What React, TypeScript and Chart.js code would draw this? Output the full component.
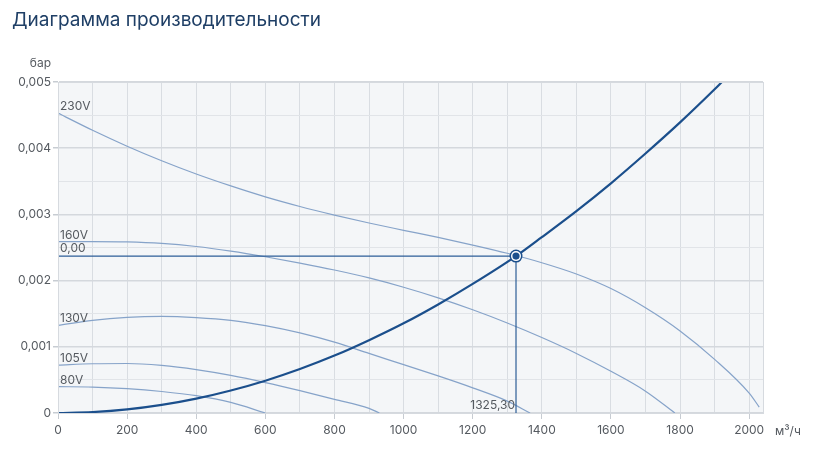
import React, { useEffect, useRef } from "react";
import { Chart, registerables } from "chart.js";

Chart.register(...registerables);

const TITLE = "Диаграмма производительности";
const Y_UNIT = "бар";
const X_UNIT = "м³/ч";

const xGridValues = [0, 100, 200, 300, 400, 500, 600, 700, 800, 900, 1000, 1100, 1200, 1300, 1400, 1500, 1600, 1700, 1800, 1900, 2000];

const fan230X = [0, 100, 200, 300, 400, 500, 600, 700, 800, 900, 1000, 1100, 1200, 1300, 1400, 1500, 1600, 1700, 1800, 1900, 2000, 2029];
const fan230Y = [0.00453, 0.00427, 0.00403, 0.00381, 0.00361, 0.00343, 0.003265, 0.00312, 0.00299, 0.00287, 0.00276, 0.002652, 0.002537, 0.002413, 0.00227, 0.0021, 0.00188, 0.00159, 0.00124, 0.00081, 0.0003, 0.00009];

const fan160X = [0, 100, 200, 300, 400, 500, 600, 700, 800, 900, 1000, 1100, 1200, 1300, 1400, 1500, 1600, 1700, 1785];
const fan160Y = [0.002588, 0.00259, 0.002585, 0.002562, 0.002515, 0.002445, 0.00236, 0.002265, 0.00216, 0.00204, 0.0019, 0.00174, 0.00156, 0.00136, 0.00114, 0.0009, 0.00063, 0.00033, 0];

const fan130X = [0, 100, 200, 300, 400, 500, 600, 700, 800, 900, 1000, 1100, 1200, 1300, 1366];
const fan130Y = [0.001325, 0.0014, 0.001445, 0.00146, 0.001442, 0.0014, 0.00132, 0.00121, 0.00107, 0.0009, 0.00073, 0.00056, 0.00038, 0.00018, 0];

const fan105X = [0, 100, 200, 300, 400, 500, 600, 700, 800, 900, 930];
const fan105Y = [0.000723, 0.000744, 0.000748, 0.000718, 0.000655, 0.000568, 0.00046, 0.000338, 0.000207, 0.00007, 0];

const fan80X = [0, 100, 200, 300, 400, 500, 600];
const fan80Y = [0.000398, 0.000392, 0.000368, 0.000325, 0.000262, 0.00016, 0];

const sysX = [0, 100, 200, 300, 400, 500, 600, 700, 800, 900, 1000, 1100, 1200, 1325.3, 1400, 1500, 1600, 1700, 1800, 1900, 1921];
const sysY = [0, 0.000014, 0.000054, 0.000122, 0.000217, 0.00034, 0.000488, 0.000664, 0.000867, 0.0011, 0.001355, 0.00164, 0.00195, 0.00237, 0.002656, 0.00305, 0.00347, 0.00392, 0.00439, 0.00489, 0.005];

const fanLabels = ["230V", "160V", "130V", "105V", "80V"];
const opX = 1325.3;
const opY = 0.00237;
const opYLabel = "0,00";
const opXLabel = "1325,30";

const toPts = (xs: number[], ys: number[]) => xs.map((x, i) => ({ x, y: ys[i] }));

const FAN_COLOR = "#86a3c9";
const SYS_COLOR = "#1b4f8c";
const OP_COLOR = "#2d5e98";
const TEXT_COLOR = "#555a60";

export default function App() {
  const ref = useRef<HTMLCanvasElement | null>(null);

  useEffect(() => {
    let chart: Chart | null = null;
    let cancelled = false;

    const build = () => {
      if (cancelled || !ref.current) return;
      const fanSets = [
        toPts(fan230X, fan230Y),
        toPts(fan160X, fan160Y),
        toPts(fan130X, fan130Y),
        toPts(fan105X, fan105Y),
        toPts(fan80X, fan80Y),
      ];

      const bgPlugin = {
        id: "bg",
        beforeDraw(c: any) {
          const { ctx, chartArea: a } = c;
          ctx.save();
          ctx.fillStyle = "#f4f6f8";
          ctx.fillRect(a.left, a.top, a.right - a.left, a.bottom - a.top);
          ctx.restore();
        },
        afterDraw(c: any) {
          const { ctx, chartArea: a, scales } = c;
          const xs = scales.x;
          const ys = scales.y;
          ctx.save();
          ctx.strokeStyle = "#d6dadf";
          ctx.lineWidth = 1;
          ctx.strokeRect(Math.round(a.left) + 0.5, Math.round(a.top) + 0.5, Math.round(a.right - a.left), Math.round(a.bottom - a.top));

          ctx.font = "12px Inter";
          ctx.fillStyle = TEXT_COLOR;
          ctx.textAlign = "left";
          ctx.textBaseline = "alphabetic";
          fanSets.forEach((pts, i) => {
            const px = xs.getPixelForValue(0);
            const py = ys.getPixelForValue(pts[0].y);
            ctx.fillText(fanLabels[i], px + 2, py - 3);
          });
          ctx.fillText(opYLabel, xs.getPixelForValue(0) + 2, ys.getPixelForValue(opY) - 4);

          ctx.textAlign = "right";
          ctx.fillText(opXLabel, xs.getPixelForValue(opX) - 1, ys.getPixelForValue(0) - 4);

          ctx.textAlign = "right";
          ctx.textBaseline = "middle";
          ctx.fillText(Y_UNIT, 51, 63);
          ctx.textAlign = "left";
          ctx.fillText(X_UNIT, 775, 431);

          const cx = xs.getPixelForValue(opX);
          const cy = ys.getPixelForValue(opY);
          ctx.fillStyle = SYS_COLOR;
          ctx.beginPath();
          ctx.arc(cx, cy, 6.5, 0, Math.PI * 2);
          ctx.fill();
          ctx.fillStyle = "#ffffff";
          ctx.beginPath();
          ctx.arc(cx, cy, 5, 0, Math.PI * 2);
          ctx.fill();
          ctx.fillStyle = SYS_COLOR;
          ctx.beginPath();
          ctx.arc(cx, cy, 3.6, 0, Math.PI * 2);
          ctx.fill();
          ctx.restore();
        },
      };

      const fanDatasets = fanSets.map((pts, i) => ({
        label: fanLabels[i],
        data: pts,
        showLine: true,
        borderColor: FAN_COLOR,
        borderWidth: 1.2,
        pointRadius: 0,
        cubicInterpolationMode: "monotone" as const,
        order: 3,
      }));

      chart = new Chart(ref.current, {
        type: "scatter",
        data: {
          datasets: [
            ...fanDatasets,
            {
              label: "op",
              data: [
                { x: 0, y: opY },
                { x: opX, y: opY },
                { x: opX, y: 0 },
              ],
              showLine: true,
              borderColor: OP_COLOR,
              borderWidth: 1.2,
              pointRadius: 0,
              tension: 0,
              order: 2,
            },
            {
              label: "system",
              data: toPts(sysX, sysY),
              showLine: true,
              borderColor: SYS_COLOR,
              borderWidth: 2.2,
              pointRadius: 0,
              cubicInterpolationMode: "monotone" as const,
              order: 1,
            },
          ],
        },
        options: {
          responsive: false,
          animation: false,
          events: [],
          layout: { padding: { left: 0, top: 82, right: 57, bottom: 0 } },
          plugins: { legend: { display: false }, tooltip: { enabled: false } },
          scales: {
            x: {
              type: "linear",
              min: 0,
              max: 2040,
              afterFit: (s: any) => {
                s.height = 42;
              },
              afterBuildTicks: (s: any) => {
                s.ticks = xGridValues.map((v) => ({ value: v }));
              },
              border: { display: true, color: "#d6dadf" },
              grid: {
                color: "#d9dde2",
                lineWidth: 1,
                tickLength: 6,
                tickColor: (ctx: any) => (ctx.tick && Math.round(ctx.tick.value) % 200 === 0 ? "#c7ccd2" : "rgba(0,0,0,0)"),
              },
              ticks: {
                autoSkip: false,
                maxRotation: 0,
                padding: 4,
                color: TEXT_COLOR,
                font: { family: "Inter", size: 12 },
                callback: (v: any) => (Math.round(v) % 200 === 0 ? String(Math.round(v)) : ""),
              },
            },
            y: {
              type: "linear",
              min: 0,
              max: 0.005,
              afterFit: (s: any) => {
                s.width = 58;
              },
              border: { display: true, color: "#d6dadf" },
              grid: {
                color: (ctx: any) => (ctx.tick && Math.round(ctx.tick.value * 10000) % 10 === 0 ? "#d4d8dd" : "#e1e4e8"),
                lineWidth: (ctx: any) => (ctx.tick && Math.round(ctx.tick.value * 10000) % 10 === 0 ? 1.5 : 1),
                tickLength: 5,
                tickColor: (ctx: any) => (ctx.tick && Math.round(ctx.tick.value * 10000) % 10 === 0 ? "#c7ccd2" : "rgba(0,0,0,0)"),
              },
              ticks: {
                stepSize: 0.0005,
                autoSkip: false,
                padding: 2,
                color: TEXT_COLOR,
                font: { family: "Inter", size: 12 },
                callback: (v: any) => {
                  const n = Math.round(v * 10000);
                  if (n % 10 !== 0) return "";
                  if (n === 0) return "0";
                  return (n / 10000).toFixed(3).replace(".", ",");
                },
              },
            },
          },
        },
        plugins: [bgPlugin],
      });
    };

    const fonts: any = (document as any).fonts;
    if (fonts && fonts.load) {
      Promise.all([fonts.load("12px Inter"), fonts.load("19px Inter")]).then(build, build);
    } else {
      build();
    }

    return () => {
      cancelled = true;
      if (chart) chart.destroy();
    };
  }, []);

  return (
    <div style={{ position: "absolute", left: 0, top: 0, width: 820, height: 455, background: "#ffffff" }}>
      <div
        style={{
          position: "absolute",
          left: 12,
          top: 8,
          fontFamily: "Inter, sans-serif",
          fontSize: 19,
          lineHeight: "24px",
          color: "#1f3f66",
          whiteSpace: "nowrap",
        }}
      >
        {TITLE}
      </div>
      <canvas ref={ref} width={820} height={455} style={{ display: "block", width: 820, height: 455 }} />
    </div>
  );
}
